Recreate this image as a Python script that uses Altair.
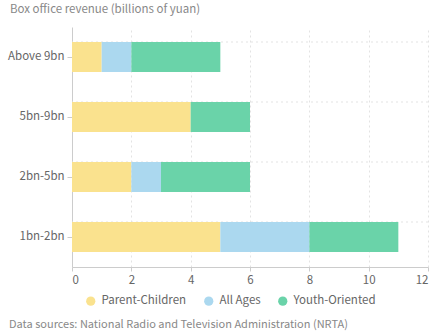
import altair as alt
import pandas as pd

categories = ["Above 9bn", "5bn-9bn", "2bn-5bn", "1bn-2bn"]
series = ["Parent-Children", "All Ages", "Youth-Oriented"]
parent_children = [1, 4, 2, 5]
all_ages = [1, 0, 1, 3]
youth_oriented = [3, 2, 3, 3]
x_ticks = [0, 2, 4, 6, 8, 10, 12]
colors = ["#FAE28E", "#ABD8EF", "#6AD3A9"]

title_text = "Box office revenue (billions of yuan)"
source_text = "Data sources: National Radio and Television Administration (NRTA)"

rows = []
for s_i, vals in enumerate([parent_children, all_ages, youth_oriented]):
    for c, v in zip(categories, vals):
        rows.append({"cat": c, "series": series[s_i], "order": s_i, "value": v})
df = pd.DataFrame(rows)

FONT = "Noto Sans CJK SC"
FS = 11.5

y_axis = alt.Axis(title=None, labelFontSize=FS, labelColor="#666666",
                  labelFont=FONT, domainColor="#cccccc", tickColor="#cccccc",
                  tickSize=5, labelPadding=3, grid=False)
y_scale = alt.Scale(paddingInner=0.5, paddingOuter=0.25)

bars = alt.Chart(df).mark_bar().encode(
    x=alt.X("value:Q", stack="zero",
            scale=alt.Scale(domain=[0, 12], nice=False),
            axis=alt.Axis(title=None, values=x_ticks, labelFontSize=FS,
                          labelColor="#666666", labelFont=FONT,
                          domainColor="#cccccc", tickColor="#cccccc", tickSize=4,
                          labelPadding=3, grid=True, gridColor="#e3e3e3",
                          gridDash=[2, 3])),
    y=alt.Y("cat:N", sort=categories, scale=y_scale, axis=y_axis),
    color=alt.Color("series:N", sort=series,
                    scale=alt.Scale(domain=series, range=colors),
                    legend=alt.Legend(title=None, orient="none", direction="horizontal",
                                      legendX=13, legendY=268, symbolType="circle",
                                      symbolSize=85, symbolStrokeWidth=0,
                                      labelFontSize=FS, labelColor="#666666",
                                      labelFont=FONT, columnPadding=16, labelOffset=5,
                                      padding=0)),
    order=alt.Order("order:Q"),
)

grid_df = pd.DataFrame({"cat": categories})
hgrid = alt.Chart(grid_df).mark_rule(color="#e3e3e3", strokeDash=[2, 3], strokeWidth=1).encode(
    y=alt.Y("cat:N", sort=categories, scale=y_scale, bandPosition=0, axis=y_axis),
)

top = alt.Chart(pd.DataFrame({"t": [title_text]})).mark_text(
    align="left", baseline="middle", fontSize=FS, color="#888888", font=FONT
).encode(x=alt.value(-62), y=alt.value(-17), text="t:N")

bottom = alt.Chart(pd.DataFrame({"t": [source_text]})).mark_text(
    align="left", baseline="middle", fontSize=11, color="#888888", font=FONT
).encode(x=alt.value(-63), y=alt.value(298), text="t:N")

chart = alt.layer(hgrid, bars, top, bottom).properties(
    width=356, height=240,
    autosize=alt.AutoSizeParams(type="none"),
    padding={"left": 72, "top": 27, "right": 6, "bottom": 67},
).configure(font=FONT, background="white").configure_view(stroke=None)

chart.save("out.html", embed_options={"renderer": "svg", "actions": False})
